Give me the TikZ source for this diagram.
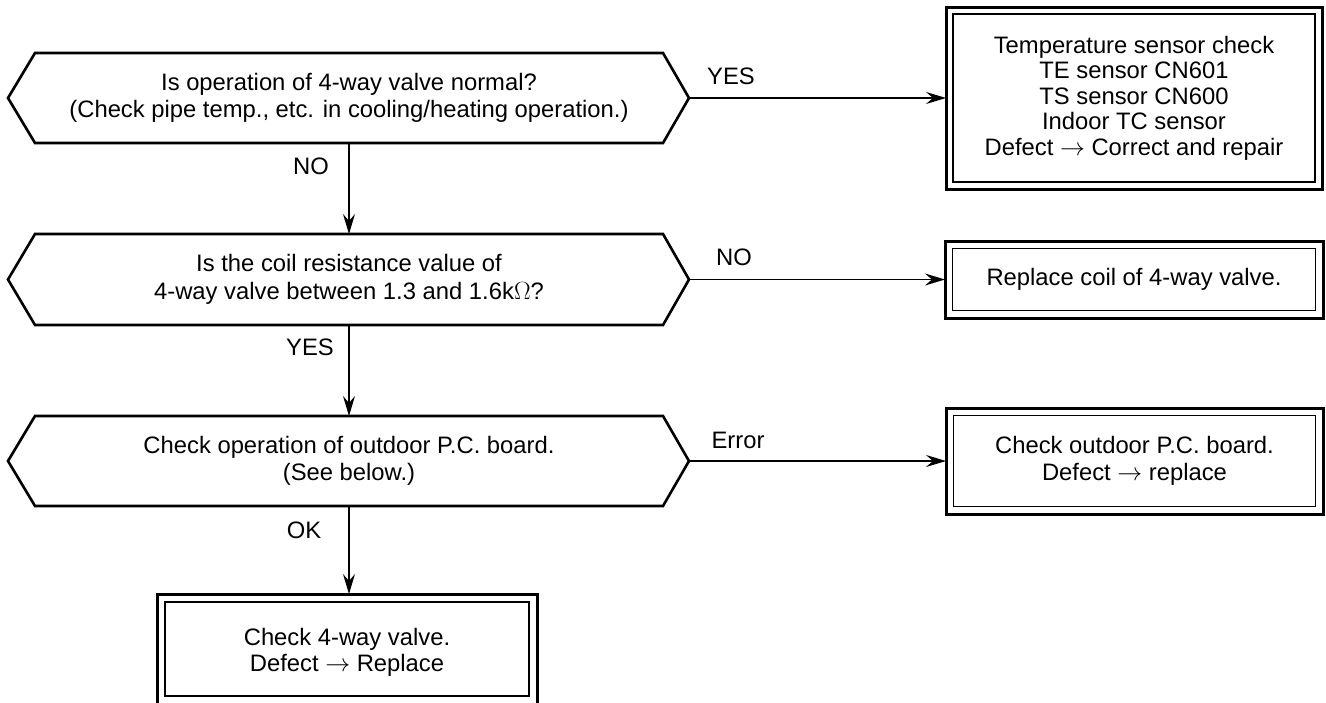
\documentclass[tikz,border=0pt]{standalone}
\usepackage{fontspec}
\setmainfont{Liberation Sans}
\usetikzlibrary{arrows.meta,calc}
\newcommand\hexof[1]{%
  \draw[hexline] (#1.north west) -- (#1.north east) -- ([xshift=26pt]#1.east) -- (#1.south east) -- (#1.south west) -- ([xshift=-27pt]#1.west) -- cycle;}
\newcommand\innerof[2]{%
  \draw[innerline] ([xshift=#2,yshift=-#2]#1.north west) rectangle ([xshift=-#2,yshift=#2]#1.south east);}
\newcommand\rarr{\smash{$\rightarrow$}}
\begin{document}
\begin{tikzpicture}[x=1pt,y=-1pt,
  txt/.style={font=\fontsize{23.8}{27.5}\selectfont, align=center, inner sep=0pt},
  hexbox/.style={txt, minimum width=628pt, minimum height=90pt, outer sep=0pt},
  hexline/.style={line width=2.6pt, line join=miter},
  outerbox/.style={txt, draw, line width=3pt, outer sep=0pt},
  innerline/.style={line width=1.5pt},
  arr/.style={line width=1.3pt, -{Stealth[length=20pt,width=12pt,inset=7pt]}},
  lbl/.style={font=\fontsize{23.8}{27}\selectfont, inner sep=0pt}
]
\useasboundingbox (0,0) rectangle (1326,702);
\clip (0,0) rectangle (1326,702);

% decision hexagons
\node[hexbox] (q1) at (349,98) {Is operation of 4-way valve normal?\\(Check pipe temp., etc. in cooling/heating operation.)};
\node[hexbox, minimum height=91pt] (q2) at (349,279.5) {Is the coil resistance value of\\4-way valve between 1.3 and 1.6k$\Omega$?};
\node[hexbox] (q3) at (349,461) {Check operation of outdoor P.C. board.\\(See below.)};
\hexof{q1}
\hexof{q2}
\hexof{q3}
\coordinate (q1tip) at ([xshift=26pt]q1.east);
\coordinate (q2tip) at ([xshift=26pt]q2.east);
\coordinate (q3tip) at ([xshift=26pt]q3.east);

% result boxes
\node[outerbox, minimum width=376pt, minimum height=182pt, font=\fontsize{23.8}{25.5}\selectfont] (b1) at (1134,98)
  {Temperature sensor check\\TE sensor CN601\\TS sensor CN600\\Indoor TC sensor\\Defect \rarr{} Correct and repair};
\innerof{b1}{7pt}
\node[outerbox, minimum width=378pt, minimum height=77pt] (b2) at (1134,279.5) {Replace coil of 4-way valve.};
\innerof{b2}{7.5pt}
\node[outerbox, minimum width=377pt, minimum height=106pt, font=\fontsize{23.8}{27}\selectfont] (b3) at (1134.5,461)
  {Check outdoor P.C. board.\\Defect \rarr{} replace};
\innerof{b3}{7.5pt}
\node[outerbox, minimum width=380pt, minimum height=110pt, font=\fontsize{23.8}{26.5}\selectfont, text depth=0pt] (b4) at (347,649)
  {\strut Check 4-way valve.\\Defect \rarr{} Replace};
\innerof{b4}{8pt}

% connectors
\draw[arr] (q1tip) -- (b1.west);
\draw[arr] (q2tip) -- (b2.west);
\draw[arr] (q3tip) -- (b3.west);
\draw[arr] (q1.south) -- (q2.north);
\draw[arr] (q2.south) -- (q3.north);
\draw[arr] (q3.south) -- (q3.south |- b4.north);

% labels
\node[lbl] (l1) at (731,76) {YES};
\node[lbl] (l2) at (734,257) {NO};
\node[lbl] (l3) at (738,440) {Error};
\node[lbl] (l4) at (311,166) {NO};
\node[lbl] (l5) at (310,347) {YES};
\node[lbl] (l6) at (304,530) {OK};
\end{tikzpicture}
\end{document}
